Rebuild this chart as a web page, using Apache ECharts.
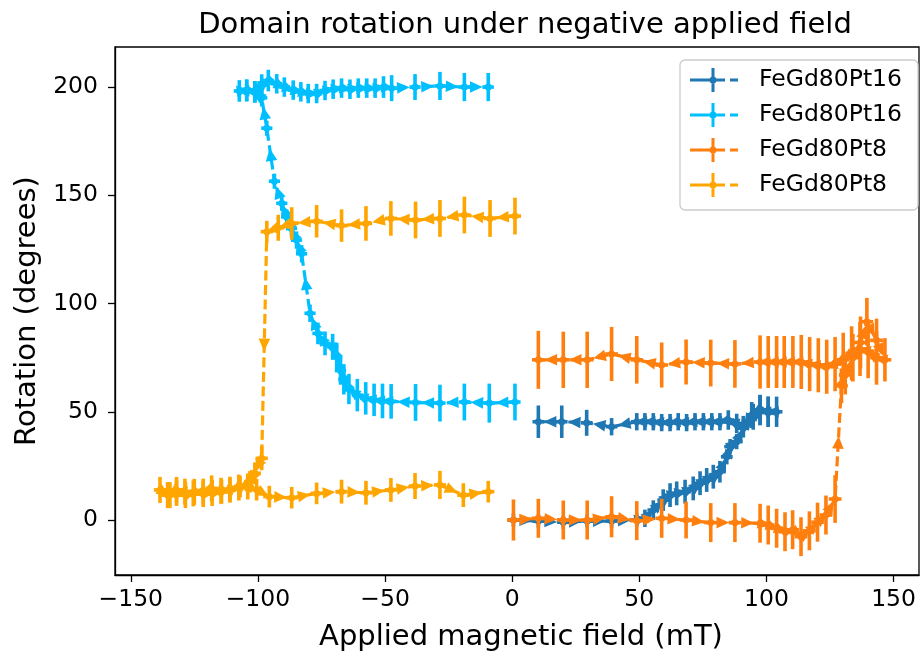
<!DOCTYPE html>
<html><head><meta charset="utf-8">
<script src="https://cdn.jsdelivr.net/npm/echarts@6/dist/echarts.min.js"></script>
<style>html,body{margin:0;padding:0;background:#fff}#c{width:921px;height:658px}</style>
</head><body><div id="c"></div>
<script>
// ---------- tick labels ----------
const xTicks = [-150, -100, -50, 0, 50, 100, 150];
const yTicks = [0, 50, 100, 150, 200];
const seriesNames = ['FeGd80Pt16', 'FeGd80Pt16', 'FeGd80Pt8', 'FeGd80Pt8'];
const seriesColors = ['#1f77b4', '#00bfff', '#ff7f0e', '#ffa500'];

// ---------- FeGd80Pt16, positive field sweep ----------
const pt16PosX = [0.5, 10.3, 20.1, 29.5, 39.1, 49, 52.2, 55.5, 59.4, 62.1, 64.7, 68, 71.2, 73.9, 76.5, 79.1, 81.7, 84.4, 85.7, 88.3, 90.9, 94.8, 97.5, 100.7, 104,
  100.7, 97.5, 94.2, 90.9, 88.3, 85, 81.7, 78.5, 75.2, 71.9, 68.6, 65.3, 62.1, 58.8, 55.5, 52.2, 49, 39.1, 29.3, 19.5, 10.3];
const pt16PosY = [0, -0.5, -1, -0.5, -0.5, 0, 0.8, 4.6, 9.2, 11.5, 12.3, 13.1, 14.6, 17, 18.5, 20, 22.3, 29.2, 33.9, 36.2, 42.4, 47.7, 50.8, 50, 50,
  50, 50.8, 48.5, 43.1, 44.6, 46.2, 45.4, 45.4, 45.4, 45.4, 45, 45.4, 45, 45, 45.4, 45.4, 45.4, 43.1, 44.9, 45.4, 45.4];
const pt16PosYErr = [3, 3, 3, 3, 3, 3, 4, 4.5, 5, 5.5, 5.5, 5.5, 5.5, 5.5, 5.5, 5.5, 5, 3.5, 3.5, 3.5, 4, 6, 7, 7, 7,
  7, 7, 6, 5, 4.5, 4.5, 4, 4, 4, 4, 4, 4, 4, 4, 4, 4, 4, 4, 6, 7.5, 7.5];
const pt16PosXErr = 2.3;

// ---------- FeGd80Pt16, negative field sweep ----------
const pt16NegX = [1.1, -9, -18.8, -28.4, -38, -47.6, -51, -54.3, -57.6, -60.9, -64.2, -66.2, -67.5, -69, -70.6, -73.6, -76.4, -79.5, -82.8, -84.8, -86.8, -88.7, -90.6, -93.5, -96.5, -98.5, -101.2, -104.4, -107.3,
  -104.4, -101.2, -98.5, -95.9, -92.6, -89.6, -86.1, -83.1, -80.2, -76.9, -73.6, -70.4, -67.1, -63.8, -60.5, -57.2, -53.9, -50.6, -47.4, -38.2, -28.4, -18.8, -9.4];
const pt16NegY = [54.5, 54, 54.5, 54, 54.3, 54.8, 55, 55.5, 56.2, 57.7, 60.5, 65, 69, 75.4, 80, 81.6, 86.2, 95.5, 123, 129.3, 134.7, 140, 146.3, 156.5, 181, 195, 197.8, 198.3, 198.2,
  198.6, 197.8, 200.9, 203, 201.5, 200, 198.6, 197.8, 197, 197, 198.4, 199, 199.5, 199, 199.5, 199.5, 199.5, 200, 199.5, 200, 200.5, 200, 200];
const pt16NegYErr = [8.5, 9, 8.5, 8.5, 8.5, 8, 8, 7.5, 7.5, 7.5, 7, 7, 6.5, 6.5, 6, 5.5, 5, 4, 4, 4, 3.5, 3.5, 3.5, 3.5, 3.5, 4, 5, 5, 5,
  5, 5, 5, 5, 4.5, 4.5, 4.5, 4.5, 4.5, 4.5, 4.5, 4.5, 4.5, 4.5, 4.5, 4.5, 4.5, 5, 6, 6, 6.5, 6.5, 6.5];
const pt16NegXErr = 2.2;

// ---------- FeGd80Pt8, positive field sweep ----------
const pt8PosX = [0.5, 10.3, 20.1, 29.5, 39.1, 49, 58.8, 68.4, 78.1, 87.6, 97.5, 100.7, 104, 107.3, 110.3, 113.6, 116.9, 120.1, 123.4, 127, 129.5, 131, 134, 137, 139.5, 143.3, 146.6,
  143.3, 140, 136.8, 133.5, 130.2, 127, 123.7, 120.4, 117, 113.7, 110.4, 107, 104, 100.7, 97.5, 87.6, 78.1, 68.4, 58.8, 49, 39.1, 29.5, 20.1, 10.3];
const pt8PosY = [0, 0.8, 0, 0, 1.5, -0.3, 0.8, 0, -1.2, -1.2, -1.5, -2.3, -3.8, -5.4, -4.5, -7.7, -5, -1, 2.3, 9.7, 62, 67, 75, 82, 91.6, 83, 74,
  75, 78, 79, 77, 74, 72, 70.8, 71.5, 72, 73, 73, 73, 73, 73, 73, 72.1, 72.5, 73, 71.6, 74, 76.7, 74, 74, 74];
const pt8PosYErr = [9.5, 9, 9, 9, 9.5, 9, 9, 8.5, 9, 9, 9, 9, 9, 9, 9, 9, 9, 9, 9, 11, 8, 9, 11, 12, 11, 10, 10,
  12.5, 12.5, 12.5, 12.5, 12.5, 12.5, 12.5, 12.5, 12.5, 12.5, 12, 12, 12, 12, 12.3, 11, 10.8, 10.4, 10.4, 11, 12.5, 13, 13, 13.4];
const pt8PosXErr = 2.5;

// ---------- FeGd80Pt8, negative field sweep ----------
const pt8NegX = [1.1, -8.7, -18.8, -28.4, -38, -47.7, -57.5, -67.1, -76.9, -86.7, -92, -96.5,
  -98.5, -101.2, -103.1, -107, -111, -114.3, -118.2, -121.5, -125.4, -128.7, -132, -134.6, -138.5,
  -135.5, -132, -128.5, -125, -121.5, -118, -114.5, -111, -107.5, -104, -100.5, -95.5, -86.7, -76.9, -67.1, -57.5, -47.7, -38.2, -28.4, -19.2, -9.4];
const pt8NegY = [140.4, 139.3, 140.9, 139.3, 138.6, 139.3, 137, 136, 138, 137, 135, 133.2,
  28.5, 21.6, 17.7, 15.4, 13.9, 13.1, 14.6, 13.1, 12.3, 13.1, 13.9, 11.5, 13.9,
  11.5, 12.5, 11.5, 13, 12, 12.5, 13.5, 14, 15, 15.5, 14, 10.8, 10.3, 12.3, 13.1, 12.6, 13.9, 15.7, 16.2, 11.5, 13.1];
const pt8NegYErr = [8.5, 8.5, 8.5, 8.5, 8.5, 8, 8, 7.5, 7.5, 7.5, 6, 5,
  5.5, 5, 5, 5, 5.5, 5.5, 6, 6, 6, 6, 6, 6, 6,
  6, 6, 6, 6, 6, 6, 6, 6, 6, 6, 5, 5, 5, 5, 5.5, 5.5, 5.5, 6, 6.5, 5.5, 5];
const pt8NegXErr = 2.4;

// ---------- build ----------
const groups = [
  {x: pt16PosX, y: pt16PosY, ey: pt16PosYErr, ex: pt16PosXErr},
  {x: pt16NegX, y: pt16NegY, ey: pt16NegYErr, ex: pt16NegXErr},
  {x: pt8PosX, y: pt8PosY, ey: pt8PosYErr, ex: pt8PosXErr},
  {x: pt8NegX, y: pt8NegY, ey: pt8NegYErr, ex: pt8NegXErr}
];
const FONT = 'DejaVu Sans';
// duplicate legend labels need distinct internal names; trailing spaces are trimmed on display
const legendKeys = seriesNames.map((n, k) => n + ' '.repeat(k % 2));

function renderErr(color) {
  return function (params, api) {
    const x = api.value(0), y = api.value(1), ey = api.value(2), ex = api.value(3);
    const a = api.coord([x, y - ey]), b = api.coord([x, y + ey]);
    const c = api.coord([x - ex, y]), d = api.coord([x + ex, y]);
    return {type: 'group', children: [
      {type: 'line', shape: {x1: a[0], y1: a[1], x2: b[0], y2: b[1]}, style: {stroke: color, lineWidth: 3.6}},
      {type: 'line', shape: {x1: c[0], y1: c[1], x2: d[0], y2: d[1]}, style: {stroke: color, lineWidth: 3.6}}
    ]};
  };
}
function renderArrow(color) {
  return function (params, api) {
    const p0 = api.coord([api.value(0), api.value(1)]);
    const p1 = api.coord([api.value(2), api.value(3)]);
    const mx = (p0[0] + p1[0]) / 2, my = (p0[1] + p1[1]) / 2;
    let dx = p1[0] - p0[0], dy = p1[1] - p0[1];
    const L = Math.hypot(dx, dy) || 1; dx /= L; dy /= L;
    const h = 6.3, w = 5.8;
    return {type: 'polygon', shape: {points: [
      [mx + dx * h, my + dy * h],
      [mx - dx * h - dy * w, my - dy * h + dx * w],
      [mx - dx * h + dy * w, my - dy * h - dx * w]
    ]}, style: {fill: color}};
  };
}

const series = [];
groups.forEach((g, k) => {
  const color = seriesColors[k];
  const pts = g.x.map((v, i) => [v, g.y[i], g.ey[i], g.ex]);
  const segs = [];
  for (let i = 0; i < g.x.length - 1; i++) segs.push([g.x[i], g.y[i], g.x[i + 1], g.y[i + 1]]);
  series.push({
    type: 'line', name: legendKeys[k], data: pts.map(p => [p[0], p[1]]),
    color: color, z: 10 + k * 4, symbol: 'circle', symbolSize: 7, showAllSymbol: true,
    lineStyle: {type: [10, 4.5], width: 3.2, color: color}, itemStyle: {color: color},
    emphasis: {disabled: true}, animation: false
  });
  series.push({
    type: 'custom', data: pts, encode: {x: 0, y: 1}, renderItem: renderErr(color),
    z: 11 + k * 4, animation: false, silent: true
  });
  series.push({
    type: 'custom', data: segs, encode: {x: [0, 2], y: [1, 3]}, renderItem: renderArrow(color),
    z: 12 + k * 4, animation: false, silent: true
  });
});

const legendIcon = 'path://M0,0L0,0Z M48,28L48,28Z M0,12.5L22,12.5L22,15.5L0,15.5Z M21.5,2L24.5,2L24.5,26L21.5,26Z M26,12.5L35,12.5L35,15.5L26,15.5Z M40,12.5L48,12.5L48,15.5L40,15.5Z M19.5,14A3.5,3.5 0 1,1 26.5,14A3.5,3.5 0 1,1 19.5,14Z';

const chart = echarts.init(document.getElementById('c'), null, {renderer: 'canvas'});
chart.setOption({
  backgroundColor: '#fff',
  animation: false,
  title: {
    text: 'Domain rotation under negative applied field', left: 520, textAlign: 'center', top: 6,
    textStyle: {fontSize: 29, fontWeight: 'normal', color: '#000', fontFamily: FONT}
  },
  grid: {left: 115, right: 2, top: 47, bottom: 83, show: true, borderColor: '#000', borderWidth: 1.3, backgroundColor: '#fff'},
  legend: {
    data: legendKeys, orient: 'vertical', left: 680, top: 60, itemWidth: 48, itemHeight: 28, itemGap: 7,
    padding: [6, 16, 11, 10], backgroundColor: 'rgba(255,255,255,0.8)', borderColor: '#cccccc', borderWidth: 1.3, borderRadius: 5,
    icon: legendIcon, formatter: n => n.trim(), selectedMode: false, z: 50,
    textStyle: {fontSize: 23.5, color: '#000', fontFamily: FONT, padding: [0, 0, 0, 16]}
  },
  xAxis: {
    type: 'value', min: -156.2, max: 160,
    axisLine: {show: true, onZero: false, lineStyle: {color: '#000', width: 1.3}},
    axisTick: {show: true, customValues: xTicks, length: 7, lineStyle: {color: '#000', width: 1.3}},
    axisLabel: {customValues: xTicks, formatter: v => (v < 0 ? '\u2212' + Math.abs(v) : String(v)),
      fontSize: 23.5, color: '#000', fontFamily: FONT, margin: 13},
    splitLine: {show: false},
    name: 'Applied magnetic field (mT)', nameLocation: 'middle', nameGap: 48,
    nameTextStyle: {fontSize: 29, color: '#000', fontFamily: FONT, padding: [0, 0, 0, 8]}
  },
  yAxis: {
    type: 'value', min: -25.4, max: 218.5,
    axisLine: {show: true, onZero: false, lineStyle: {color: '#000', width: 1.3}},
    axisTick: {show: true, customValues: yTicks, length: 7, lineStyle: {color: '#000', width: 1.3}},
    axisLabel: {customValues: yTicks, formatter: v => String(v), fontSize: 23.5, color: '#000', fontFamily: FONT, margin: 17},
    splitLine: {show: false},
    name: 'Rotation (degrees)', nameLocation: 'middle', nameGap: 63, nameRotate: 90,
    nameTextStyle: {fontSize: 29, color: '#000', fontFamily: FONT}
  },
  series: series
});
</script></body></html>
